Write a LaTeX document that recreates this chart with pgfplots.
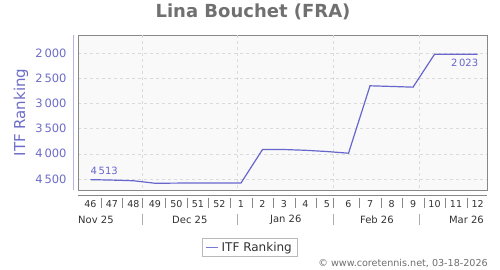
\documentclass[border=0pt]{standalone}
\usepackage{fontspec}
\setmainfont{DejaVu Sans}
\usepackage{pgfplots}
\usepackage{pgfplotstable}
\pgfplotsset{compat=1.18}
\definecolor{lineblue}{RGB}{102,102,204}
\definecolor{leglineblue}{RGB}{120,120,215}
\definecolor{labblue}{RGB}{108,108,200}
\definecolor{axblue}{RGB}{180,180,228}
\definecolor{framegray}{RGB}{136,136,136}
\definecolor{gridgray}{RGB}{218,218,218}
\definecolor{bggray}{RGB}{249,249,249}
\definecolor{titlegray}{RGB}{112,112,112}
\definecolor{textgray}{RGB}{50,50,50}
\definecolor{copygray}{RGB}{110,110,110}
\pgfplotstableread{
idx rank
0 4513
1 4522
2 4535
3 4585
4 4582
5 4580
6 4580
7 4580
8 3915
9 3915
10 3930
11 3955
12 3988
13 2649
14 2662
15 2676
16 2023
17 2023
18 2023
}\ranktable
\begin{document}
\begin{tikzpicture}[x=1pt,y=1pt]
\path[use as bounding box] (0,0) rectangle (500,270);
\node[font=\fontsize{18}{20}\selectfont\bfseries, text=titlegray] at (253,258) {Lina Bouchet (FRA)};
\node[font=\fontsize{15}{17}\selectfont, text=labblue, rotate=90] at (21,157.5) {ITF Ranking};
\node[font=\fontsize{9.6}{11}\selectfont, text=copygray, anchor=east, inner sep=0] at (488,7) {© www.coretennis.net, 03-18-2026};
% legend box
\draw[gray!55, line width=0.7pt, fill=white] (202.3,13.3) rectangle (297.3,31.7);
\draw[leglineblue, line width=1.3pt] (205.5,22.5) -- (218,22.5);
\node[anchor=west, inner sep=0pt, font=\fontsize{12}{14}\selectfont, text=textgray] at (221.5,22.3) {ITF Ranking};
\begin{axis}[
  at={(78pt,80pt)}, anchor=south west,
  width=409pt, height=155pt, scale only axis,
  xmin=-0.58, xmax=18.44,
  ymin=1640, ymax=4719, y dir=reverse,
  axis line style={framegray},
  axis background/.style={fill=bggray},
  clip=false,
  xtick={0,...,18},
  xticklabels={46,47,48,49,50,51,52,1,2,3,4,5,6,7,8,9,10,11,12},
  xticklabel style={anchor=center, yshift=-14pt, font=\fontsize{9.5}{10}\selectfont, text=textgray, inner sep=0pt},
  ytick={2000,2500,3000,3500,4000,4500},
  yticklabel style={anchor=east, inner sep=0pt, xshift=-11.3pt, font=\fontsize{11.5}{13}\selectfont, text=labblue},
  /pgf/number format/assume math mode=true,
  /pgf/number format/1000 sep={\,},
  major tick length=0pt,
  ymajorgrids,
  major grid style={dashed, gridgray, line width=0.5pt},
  extra x ticks={2.42,6.84,11.28,15.30},
  extra x tick labels={},
  extra x tick style={grid=major, major tick length=0pt},
]
\addplot[lineblue, line width=1.2pt, no markers] table[x=idx, y=rank] {\ranktable};
% decorative axis lines
\draw[framegray, line width=0.8pt] ([yshift=-5pt]axis cs:-0.58,4719) -- ([yshift=-5pt]axis cs:18.44,4719);
\draw[axblue, line width=0.8pt] ([xshift=-5pt]axis cs:-0.58,1640) -- ([xshift=-5pt]axis cs:-0.58,4719);
% week separators
\pgfplotsinvokeforeach{0.5,1.5,2.42,3.5,4.5,5.5,6.5,7.5,8.5,9.5,10.5,11.28,12.5,13.5,14.5,15.5,16.5,17.5}{
  \draw[framegray, line width=0.5pt] ([yshift=-8pt]axis cs:#1,4719) -- ([yshift=-18pt]axis cs:#1,4719);
}
\pgfplotsinvokeforeach{2.42,6.84,11.28,15.30}{
  \draw[framegray!70, line width=0.5pt] ([yshift=-24pt]axis cs:#1,4719) -- ([yshift=-35pt]axis cs:#1,4719);
}
% month labels
\begin{scope}[every node/.style={font=\fontsize{10}{11}\selectfont, text=textgray, inner sep=0pt}]
\node[anchor=west] at ([yshift=-30pt]axis cs:-0.58,4719) {Nov 25};
\node at ([yshift=-30pt]axis cs:4.62,4719) {Dec 25};
\node at ([yshift=-30pt]axis cs:9.08,4719) {Jan 26};
\node at ([yshift=-30pt]axis cs:13.32,4719) {Feb 26};
\node[anchor=east] at ([xshift=-3pt,yshift=-30pt]axis cs:18.44,4719) {Mar 26};
\end{scope}
% value labels
\node[anchor=base west, inner sep=0pt, font=\fontsize{10}{11}\selectfont, text=lineblue] at ([yshift=5.3pt]axis cs:0,4513) {4\,513};
\node[anchor=base east, inner sep=0pt, font=\fontsize{10}{11}\selectfont, text=lineblue] at ([xshift=0.8pt,yshift=-12.3pt]axis cs:18,2023) {2\,023};
\end{axis}
\end{tikzpicture}
\end{document}
